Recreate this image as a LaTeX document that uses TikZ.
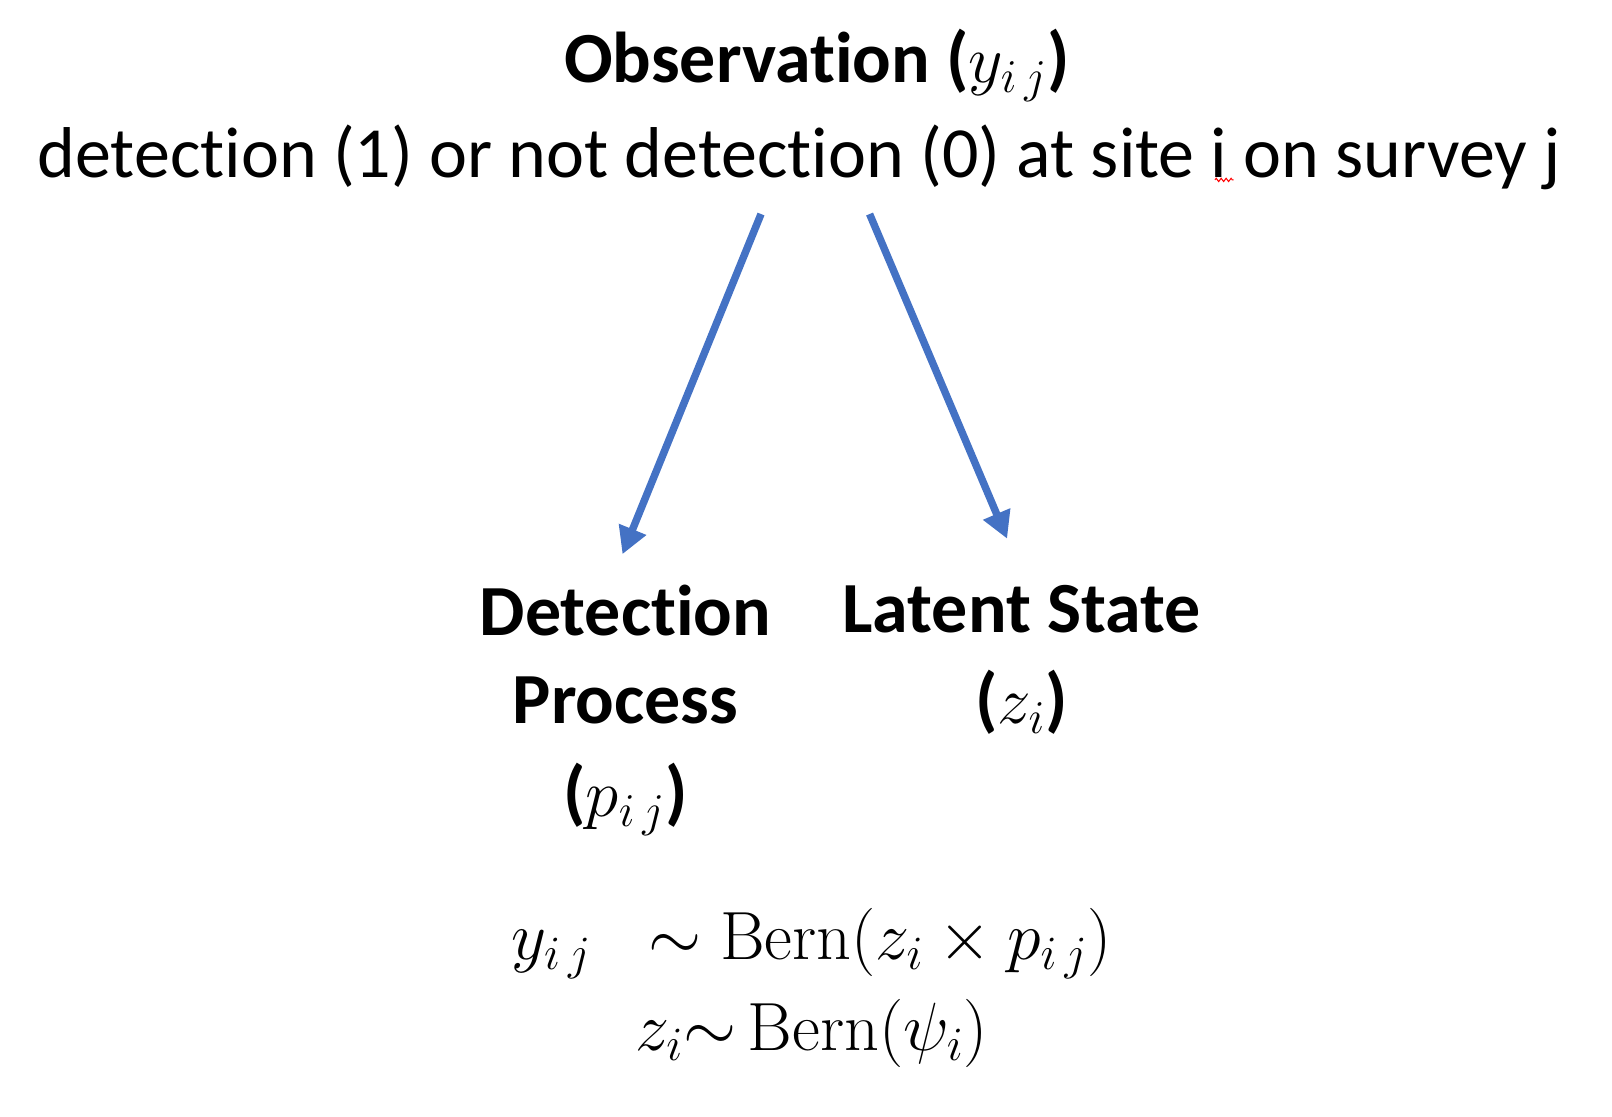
\RequirePackage{fix-cm}
\documentclass[tikz,border=0pt]{standalone}
\usepackage{amsmath}
\usepackage{amssymb}
\usepackage[no-math]{fontspec}
\setmainfont{Carlito}[Ligatures=NoCommon]
\usepackage{xcolor}
\usetikzlibrary{positioning,arrows.meta,decorations.pathmorphing}
\definecolor{officeblue}{HTML}{4472C4}
% larger maths inside the text lines
\newcommand{\bigmath}[1]{{\fontsize{32.5}{36}\selectfont$#1$}}
\begin{document}
\begin{tikzpicture}[%
    x=0.5pt, y=-0.5pt,          % pixel grid of the reference
    font=\fontsize{34.8}{42}\selectfont,
    ]
% -------------------------------------------------
% A few text styles
\tikzset{
base/.style={inner sep=0pt, align=center, anchor=base},
head/.style={base, font=\fontsize{34.8}{42}\selectfont\bfseries},
plain/.style={base},
eqn/.style={base, font=\fontsize{33}{38}\selectfont},
% connector line style
link/.style={-{Triangle[length=13pt, width=13.5pt]}, draw=officeblue, line width=3.6pt},
% spell check mark
squiggle/.style={draw=red, line width=0.5pt, decorate,
    decoration={zigzag, amplitude=0.8pt, segment length=2.4pt}},
}
\useasboundingbox (0,0) rectangle (1559,1080);
% -------------------------------------------------
% Observation
\node [head] (obs) at (790,80) {Observation (\bigmath{y_{i\,j}})};
\node [plain] (desc) at (773,172) {detection (1) or not detection (0) at site i on survey j};

% Two processes
\node [head] (detect1) at (605,615) {Detection};
\node [head] (detect2) at (605,700) {Process};
\node [head] (detect3) at (605,790) {(\bigmath{p_{i\,j}})};
\node [head] (latent1) at (988,612) {Latent State};
\node [head] (latent2) at (988,700) {(\bigmath{z_i})};

% Model
\node [eqn] (eq1) at (785,928) {$y_{i\,j}\;\;\sim\mathrm{Bern}(z_i \times p_{i\,j})$};
\node [eqn] (eq2) at (785,1016) {$z_i{\sim}\,\mathrm{Bern}(\psi_i)$};

% Connectors
\coordinate (startL) at (736,207);
\coordinate (startR) at (841,207);
\coordinate (endL) at (602,536);
\coordinate (endR) at (974,521);
\draw [link] (startL) -- (endL);
\draw [link] (startR) -- (endR);

\coordinate (sq1) at (1175,174);
\coordinate (sq2) at (1193,174);
\draw [squiggle] (sq1) -- (sq2);

\end{tikzpicture}
\end{document}
